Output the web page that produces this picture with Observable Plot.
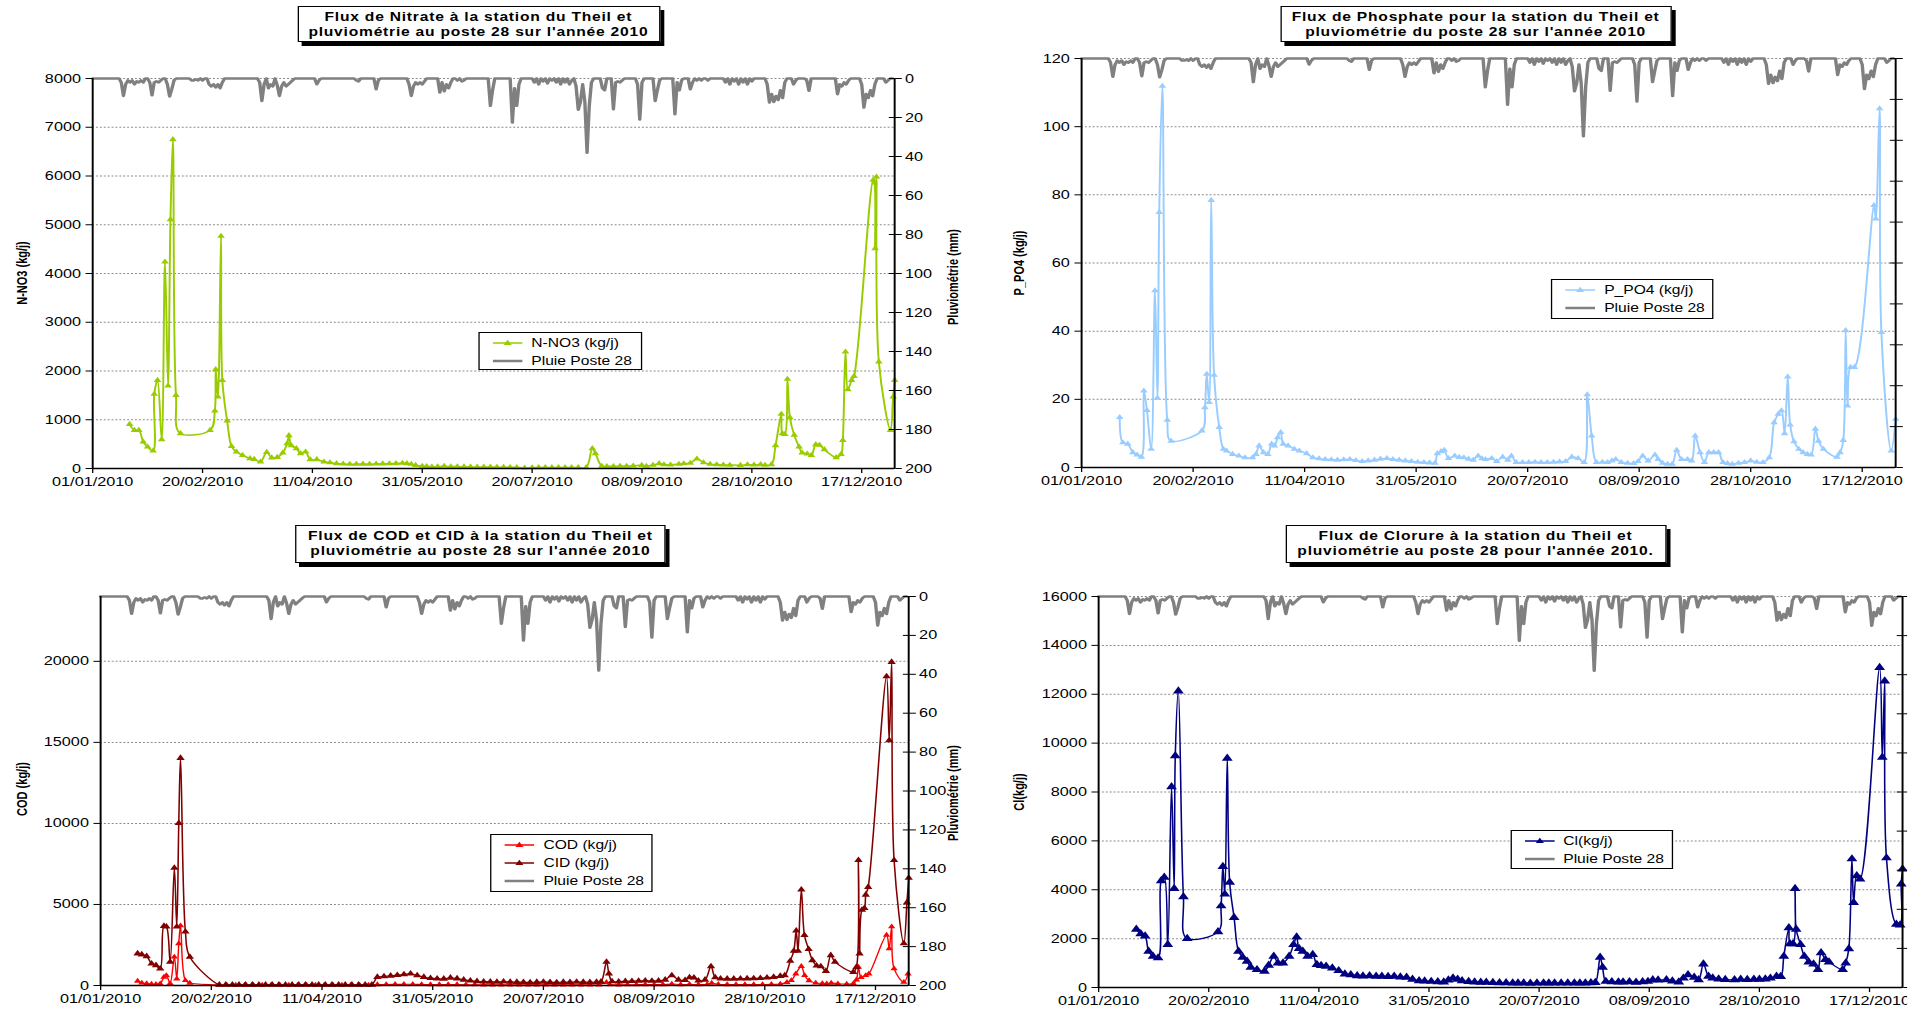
<!DOCTYPE html>
<html><head><meta charset="utf-8">
<script src="https://cdn.jsdelivr.net/npm/d3@7"></script>
<script src="https://cdn.jsdelivr.net/npm/@observablehq/plot@0.6"></script>
<style>
html,body{margin:0;padding:0;background:#fff;overflow:hidden;width:1926px;height:1009px;}
#stage{position:absolute;left:0;top:0;width:1482px;height:1009px;transform:scaleX(1.3);transform-origin:0 0;font-family:"Liberation Sans",Arial,sans-serif;color:#000;}
.title{position:absolute;border:1px solid #000;box-shadow:3px 4px 0 #000;background:#fff;font-weight:bold;font-size:12px;line-height:15px;text-align:center;letter-spacing:0.6px;padding-top:3px;box-sizing:border-box;white-space:nowrap;}
.legend{position:absolute;border:1px solid #000;background:#fff;font-size:12px;box-sizing:border-box;padding-top:1px;}
.legend .row{height:18px;display:flex;align-items:center;white-space:nowrap;}
.legend svg{margin:0 7px 0 10px;}
.vlab{position:absolute;font-weight:bold;font-size:11px;white-space:nowrap;transform:translate(-50%,-50%) rotate(-90deg);}
</style></head><body><div id="stage"></div>
<script>
// ---------- tick labels ----------
const dateTickLabels = ["01/01/2010","20/02/2010","11/04/2010","31/05/2010","20/07/2010","08/09/2010","28/10/2010","17/12/2010"];
const rainTicks = [0,20,40,60,80,100,120,140,160,180,200];
const no3Ticks = [0,1000,2000,3000,4000,5000,6000,7000,8000];
const po4Ticks = [0,20,40,60,80,100,120];
const codTicks = [0,5000,10000,15000,20000];
const clTicks = [0,2000,4000,6000,8000,10000,12000,14000,16000];

// ---------- rainfall, Pluie Poste 28 (day of year, mm) ----------
const rainEvents = [[13,2],[14,8.9],[15,3],[16,1],[17,2],[18,1],[19,3],[20,1.5],[21,2],[22,1],[23,2],[26,2],[27,8.6],[28,2],[29,1.5],[30,2],[31,1],[34,3],[35,9.2],[36,5.5],[37,1],[45,1],[46,1],[47,0.5],[48,1],[50,1],[53,3],[54,4],[55,3],[56,4.5],[57,3],[58,5],[59,2],[76,2],[77,11.5],[78,3],[80,5],[81,3],[82,4],[84,3.5],[85,8.9],[86,4],[87,2],[88,4],[89,3],[90,2],[91,1],[102,2.9],[103,1],[120,1],[121,1.5],[129,5.5],[130,1],[144,3],[145,8.9],[146,4],[147,2],[148,3],[149,2],[150,3],[151,1.5],[158,7.2],[159,2],[160,6.5],[161,3],[162,5],[163,2],[166,1],[168,1.5],[169,1],[181,14],[182,6],[191,22.6],[192,5],[193,14],[194,3],[201,2],[203,3],[205,1.5],[207,2.5],[209,1],[211,2],[213,3],[215,2],[217,3],[218,1],[220,4],[221,16],[222,12],[223,3],[224,12],[225,38],[226,14],[227,2],[232,5],[233,6],[237,15.7],[238,2],[239,1.5],[240,2],[241,1],[248,3],[249,21],[250,2],[256,11.5],[257,6],[258,1],[265,18.3],[266,2],[267,6],[268,1],[272,5.5],[273,2],[275,1],[277,1],[280,1],[288,2],[290,3],[292,1.5],[294,3],[296,2],[298,3],[300,1.5],[307,3],[308,12.3],[309,8],[310,12],[311,9],[312,11],[313,6],[314,10],[315,2],[319,3],[320,1],[325,1],[326,6.3],[339,8],[340,3],[341,4],[342,2],[343,3],[344,1],[350,3],[351,14.9],[352,8],[353,10],[354,6],[355,9],[356,3],[361,2],[362,1]];

// ---------- fluxes (day of year, kg/j) ----------
const no3 = [[16.8,909],[19,786],[21,786],[23,547],[25,444],[27.5,362],[28,1525],[29.5,1812],[31.4,595],[32.9,4240],[34.3,1696],[35.4,5108],[36.5,6750],[37.9,1504],[40,718],[53.4,786],[55.6,1183],[56,2030],[57,1470],[58.4,4766],[59,1812],[61.2,978],[63.2,458],[65.4,342],[68.2,273],[71.6,205],[73.5,190],[76.4,137],[79.2,335],[81.5,220],[84,230],[86.5,321],[88.5,513],[89.3,677],[90.4,472],[92.7,410],[94.6,308],[96.9,342],[99,185],[102,185],[105.3,137],[108,120],[111,103],[114,95],[117,89],[120,89],[123,92],[126,89],[129,95],[132,98],[135,100],[138,103],[141,110],[143,103],[145,90],[147,68],[150,50],[152,45],[154.4,34],[157,40],[160,48],[163,38],[166,40],[169,35],[172,34],[175,30],[178,32],[181,30],[184,28],[187,25],[190,24],[193,22],[196.6,14],[200,18],[203,20],[206,22],[209,20],[212,22],[215,20],[218,22],[221,20],[224.6,20],[227.4,410],[228.8,308],[231.7,48],[234,45],[237,45],[240,48],[243,50],[246,55],[249.9,68],[252,50],[255,70],[257.8,103],[260,80],[263,75],[266.8,89],[269,100],[272,110],[275,198],[278,120],[281,90],[284,80],[287,75],[290,70],[294.8,68],[298,80],[301,75],[304,82],[306,70],[308.9,82],[310.8,472],[313.4,1115],[313.9,718],[315,700],[316.2,1833],[317.3,1046],[319.3,684],[321.5,444],[322.9,321],[325.2,300],[327.1,273],[329.1,492],[330.8,479],[333,390],[338.4,226],[340.6,294],[341.4,581],[342.6,2393],[343.7,1620],[345.4,1812],[346.5,1894],[355.2,5915],[355.8,5860],[356.1,4513],[356.7,5983],[357.8,2188],[363.1,786],[364.3,1470],[365,1812]];

const po4 = [[17.1,14.7],[18.5,7.3],[20.7,6.9],[23,4.4],[24.9,3.7],[26.8,3.1],[27.9,22.5],[29.3,16.8],[31.2,5.4],[32.9,51.9],[34,20.4],[34.8,74.9],[36.2,111.9],[38.4,13.9],[40.1,7.8],[53.9,10.8],[55.3,17.6],[56.1,27.4],[57.2,19.1],[58.1,78.4],[59.4,27.1],[61.7,11.8],[63.6,5.4],[65,4.9],[67.7,3.9],[70.5,3.4],[73.3,2.9],[76.6,2.9],[78.2,3.9],[79.6,6.4],[81.6,4.4],[83.5,3.9],[85.2,6.9],[86.5,6.4],[87.9,8.8],[89.3,10.3],[90.4,6.9],[92.6,6.4],[95.4,5.4],[97.6,4.9],[100.9,4.1],[103.7,2.9],[106.5,2.6],[109.2,2.4],[112,2.3],[114.7,2.2],[117.5,2.3],[120.3,2.4],[123,2.1],[125.8,1.8],[128.5,2.0],[131.3,2.2],[134,2.5],[136.9,2.7],[139.6,2.4],[142.4,2.2],[145.2,2.0],[147.9,1.8],[150.7,1.6],[153.5,1.5],[156,1.4],[158.4,1.3],[159.5,4.1],[161.2,4.7],[162.6,5.1],[164.5,2.7],[167.3,3.4],[169.3,3.0],[171.4,2.9],[173.5,2.5],[175.6,2.2],[177.8,3.4],[179.5,2.6],[181.1,2.4],[183.9,2.7],[186.1,1.8],[188.8,3.1],[191.1,2.2],[192.7,3.4],[194.9,1.5],[197.7,1.5],[200.5,1.5],[203.3,1.6],[206,1.5],[208.8,1.5],[211.6,1.6],[214.3,1.7],[217,1.8],[219.8,3.1],[222.6,2.7],[225.3,1.5],[226.7,21.4],[228.7,9.3],[230.9,1.5],[233.5,1.6],[235.8,1.5],[237.8,2.0],[239.5,2.4],[242,1.5],[244.8,1.3],[247.5,1.2],[249.5,1.8],[251.6,3.4],[254,2.0],[257.1,3.7],[258.5,2.4],[260.5,1.3],[262.7,1.0],[264.8,1.0],[266.8,5.1],[269,2.4],[271.7,2.4],[273.5,2.0],[275.1,9.3],[277.3,4.4],[279.3,1.5],[281.2,4.4],[283.4,4.4],[285.6,4.4],[287.6,1.5],[289.6,1.2],[291.7,1.0],[294.5,1.3],[297.2,1.5],[300,2.0],[302.7,1.6],[305.5,1.5],[308.3,2.9],[310.5,13.2],[312.4,15.7],[313.8,16.7],[315.2,10.0],[316.6,26.6],[317.7,12.5],[319.4,7.6],[321.6,5.4],[323.5,4.4],[325.4,3.9],[327.1,3.7],[329,11.3],[330.4,7.8],[332.6,5.4],[338.7,3.1],[340.1,4.4],[341.5,8.0],[342.6,40.2],[343.4,18.1],[344.8,29.4],[346.5,29.4],[355.3,76.9],[356.1,73],[357.8,105.3],[358.6,39.7],[363,4.9],[365,14.2]];

const cod = [[16.7,269],[18.6,160],[20.8,120],[23,90],[25,70],[26.9,110],[28.6,518],[29.7,622],[31.4,130],[33.3,1762],[34.4,414],[35.3,2591],[36.1,3689],[38.3,311],[40.3,150],[53.6,40],[57,35],[61,30],[65,30],[69,28],[73,30],[77,32],[81,30],[85,28],[89,30],[93,32],[97,30],[101,28],[105,30],[109,30],[113,32],[117,30],[121,30],[125,60],[129,65],[133,70],[137,70],[141,75],[145,65],[149,60],[153,55],[157,60],[161,55],[165,50],[169,48],[173,45],[177,45],[181,44],[185,42],[189,40],[193,40],[197,40],[201,42],[205,40],[209,40],[213,40],[217,42],[221,40],[225,45],[228.5,200],[230,60],[234,45],[238,48],[242,50],[246,55],[250,52],[254,55],[258,90],[262,60],[266,70],[270,60],[274,65],[276,150],[279,70],[283,60],[287,58],[291,60],[295,62],[299,65],[303,70],[307,90],[310,200],[312,311],[314,725],[316.5,1181],[318,622],[320,300],[323,160],[326,130],[328,110],[330,150],[333,110],[337,90],[340,120],[341.4,352],[342.3,1140],[343.5,500],[345.6,622],[347,725],[355,3109],[356.2,2280],[357.3,3627],[358.4,1036],[362.8,207],[364.7,725]];

const cid = [[16.7,1969],[18.6,1907],[20.8,1803],[23,1347],[25,1243],[26.9,1036],[28.6,3668],[29.7,3627],[31.4,1451],[33.3,7254],[34.4,3627],[35.3,10010],[36.1,14031],[38.3,3316],[40.3,1762],[53.6,40],[56.5,45],[59.5,40],[62.5,45],[65.5,40],[68.5,42],[71.5,40],[74.5,45],[77.5,40],[80.5,42],[83.5,40],[86.5,45],[89.5,40],[92.5,42],[95.5,40],[98.5,45],[101.5,40],[104.5,42],[107.5,40],[110.5,45],[113.5,40],[116.5,42],[119.5,40],[122.5,45],[125,518],[128,560],[131,600],[134,640],[137,680],[140,725],[143,620],[146,520],[149,450],[152,420],[155,410],[158,477],[161,430],[164,350],[167,300],[170,260],[173,240],[176,230],[179,220],[182,240],[185,220],[188,210],[191,200],[194,190],[197,210],[200,220],[203,200],[206,190],[209,210],[212,200],[215,220],[218,210],[221,200],[224,210],[226,230],[228.5,1451],[229.6,725],[231,250],[234,240],[237,260],[240,270],[243,280],[246,300],[249,280],[252,290],[255,350],[258,622],[261,350],[264,330],[266,500],[268,480],[270,300],[273,350],[275.7,1181],[277.6,500],[280,420],[283,410],[286,414],[289,420],[292,430],[295,440],[298,450],[301,480],[304,520],[307,580],[309,622],[311.5,1513],[313.1,2135],[314.2,3378],[315,2135],[316.5,5907],[317.9,3109],[319.8,2238],[321.5,1554],[323.4,1223],[325.3,1181],[327.6,891],[329.8,1865],[331.7,1451],[340,829],[341.4,1140],[342.3,7730],[342.8,1969],[343.9,4663],[345,4767],[345.6,5596],[346.7,6072],[355,19067],[356.2,15129],[357.3,19958],[358.4,7730],[362.8,2591],[364.2,5119],[365,6632]];

const cl = [[17.1,2376],[19.1,2197],[21.1,2101],[22.7,1483],[24.7,1277],[27,1209],[28.4,4367],[29.8,4505],[31.4,1758],[33.1,8213],[34.3,4051],[34.8,9476],[36.2,12127],[38.5,3708],[40.2,2005],[54.2,2280],[55.6,3337],[56.4,4944],[57.3,3818],[58.4,9380],[59.5,4299],[61.5,2857],[63.5,1483],[65.4,1236],[67.4,1071],[69.1,824],[71.9,728],[75.3,659],[77.2,906],[79.5,1277],[81.4,1003],[83.7,1003],[86.5,1277],[88.5,1758],[89.9,2060],[91,1593],[92.7,1483],[94.9,1277],[97.2,1346],[99.1,934],[101,900],[103.3,865],[106.1,797],[109,687],[111.8,549],[114.5,520],[117.4,481],[120,470],[123,481],[126,460],[128.6,453],[131.4,450],[134.2,453],[137,430],[139.8,412],[142.5,330],[145.5,275],[148,260],[151,247],[154,235],[156.7,220],[158.8,300],[160.9,385],[163,330],[165,275],[168,240],[170.7,220],[173.5,215],[176,210],[179,206],[182,195],[185,190],[188,185],[190.4,179],[193,180],[196,175],[199,180],[202,178],[204.4,179],[207,182],[210,180],[213,178],[216,180],[218.5,179],[221,185],[223.5,190],[225.5,206],[227.7,1236],[228.8,824],[230.3,247],[233,230],[236,225],[238.1,220],[241,230],[244,215],[247,235],[249.4,247],[251.6,316],[254,300],[257.8,316],[260.5,260],[263.4,220],[265.5,380],[267.6,522],[270.4,412],[272.4,316],[274.6,961],[276.9,453],[278.8,385],[281.5,340],[284.5,320],[288.7,316],[291.5,330],[294.5,320],[297.5,335],[300,330],[302.7,343],[305,380],[307.8,453],[309.7,450],[311.1,1277],[313.4,2445],[313.9,1785],[315.3,1785],[316.2,4051],[316.7,2376],[318.7,1758],[320.4,1277],[322.4,1044],[324.6,961],[326.6,728],[328,1415],[330,1140],[331.6,1044],[337.8,728],[339.2,1003],[340.6,1579],[342,5260],[342.8,3475],[344.2,4573],[345.7,4436],[354.6,13089],[355.8,9421],[356.9,12539],[357.7,5301],[362.2,2582],[363.9,2555],[364.4,4230],[365,4848]];

// ---------- helpers ----------
const stage = document.getElementById("stage");
const parseD = d3.utcParse("%d/%m/%Y");
const fmtD = d3.utcFormat("%d/%m/%Y");
const dateTicks = dateTickLabels.map(parseD);
const T0 = +dateTicks[0];
const DAY = 864e5;
const toDate = d => new Date(T0 + d * DAY);
const xDomain = [toDate(0), toDate(365)];
const rainDaily = Array.from({length: 365}, (_, i) => ({day: i, mm: 0}));
for (const [d, mm] of rainEvents) rainDaily[d].mm = mm;

function panel(p) {
  const ymax = p.ymax;
  const toLeft = mm => ymax * (1 - mm / 200);
  const rain = rainDaily.map(r => ({date: toDate(r.day), y: toLeft(r.mm)}));
  const marks = [Plot.gridY(p.grid, {stroke: "#8a8a8a", strokeOpacity: 1, strokeWidth: 1, strokeDasharray: "1.5,1.5"})];
  for (const s of p.series) {
    const data = s.data.map(([d, v]) => ({date: toDate(d), v}));
    marks.push(Plot.line(data, {x: "date", y: "v", stroke: s.color, strokeWidth: s.sw, curve: "catmull-rom"}));
    marks.push(Plot.dot(data, {x: "date", y: "v", symbol: "triangle", r: s.r, fill: s.color, stroke: null}));
  }
  marks.push(Plot.line(rain, {x: "date", y: "y", stroke: "#808080", strokeWidth: 2.6, strokeLinejoin: "round"}));
  marks.push(Plot.ruleY([0], {stroke: "#000", strokeWidth: 1.6}));
  marks.push(Plot.ruleX([xDomain[0]], {stroke: "#000", strokeWidth: 1.5}));
  marks.push(Plot.ruleX([xDomain[1]], {stroke: "#000", strokeWidth: 1.5}));
  marks.push(Plot.axisY(p.yticks, {anchor: "left", tickSize: 5, tickPadding: 4, label: null, tickFormat: d3.format("d")}));
  const rpos = rainTicks.map(toLeft);
  marks.push(Plot.axisY(rpos, {anchor: "right", tickSize: 5, tickPadding: 3, label: null,
    tickFormat: p.rightLabels ? (v => String(Math.round(200 * (1 - v / ymax)))) : (() => "")}));
  marks.push(Plot.axisY(rpos, {anchor: "right", tickSize: 5, dx: -5, label: null, tickFormat: () => ""}));
  marks.push(Plot.axisX(dateTicks, {tickSize: 5, tickPadding: 4, label: null, tickFormat: fmtD}));
  const svg = Plot.plot({
    width: p.width, height: p.height,
    marginLeft: p.ml, marginRight: p.mr, marginTop: p.mt, marginBottom: p.mb,
    x: {type: "utc", domain: xDomain},
    y: {domain: [0, ymax]},
    style: {fontFamily: "'Liberation Sans', Arial, sans-serif", fontSize: "12.5px", color: "#000", background: "transparent", overflow: "visible"},
    marks
  });
  svg.style.position = "absolute";
  svg.style.left = p.left + "px";
  svg.style.top = p.top + "px";
  stage.appendChild(svg);

  // title box
  const t = document.createElement("div");
  t.className = "title";
  Object.assign(t.style, {left: p.title.x + "px", top: p.title.y + "px", width: p.title.w + "px", height: p.title.h + "px"});
  t.innerHTML = p.title.lines.join("<br>");
  stage.appendChild(t);

  // legend
  const lg = document.createElement("div");
  lg.className = "legend";
  Object.assign(lg.style, {left: p.legend.x + "px", top: p.legend.y + "px", width: p.legend.w + "px", height: p.legend.h + "px"});
  const rows = p.series.map(s => `<div class="row"><svg width="23" height="10"><line x1="0" y1="5" x2="23" y2="5" stroke="${s.color}" stroke-width="1.5"/><path d="M11.5,1.8 L14.6,7 L8.4,7 Z" fill="${s.color}"/></svg>${s.name}</div>`);
  rows.push(`<div class="row"><svg width="23" height="10"><line x1="0" y1="5" x2="23" y2="5" stroke="#808080" stroke-width="2.6"/></svg>Pluie Poste 28</div>`);
  lg.innerHTML = rows.join("");
  stage.appendChild(lg);

  // axis titles
  for (const lab of p.labels) {
    const d = document.createElement("div");
    d.className = "vlab";
    d.textContent = lab.text;
    d.style.left = lab.x + "px";
    d.style.top = lab.y + "px";
    stage.appendChild(d);
  }
}

panel({
  left: 0, top: 60, width: 745, height: 440, ml: 70.8, mr: 57.3, mt: 18, mb: 32,
  ymax: 8000, yticks: no3Ticks, grid: no3Ticks.slice(1), rightLabels: true,
  series: [{name: "N-NO3 (kg/j)", data: no3, color: "#99CC00", sw: 1.5, r: 2.2}],
  title: {x: 228.5, y: 6, w: 279, h: 36, lines: ["Flux de Nitrate à la station du Theil et", "pluviométrie au poste 28 sur l'année 2010"]},
  legend: {x: 367.7, y: 332, w: 126, h: 38},
  labels: [{text: "N-NO3 (kg/j)", x: 17, y: 273}, {text: "Pluviométrie (mm)", x: 733, y: 277}]
});
panel({
  left: 770, top: 40, width: 711, height: 459, ml: 61.5, mr: 23.3, mt: 18, mb: 32,
  ymax: 120, yticks: po4Ticks, grid: po4Ticks.slice(1), rightLabels: false,
  series: [{name: "P_PO4 (kg/j)", data: po4, color: "#99CCFF", sw: 1.5, r: 2.2}],
  title: {x: 984.6, y: 6, w: 301, h: 36, lines: ["Flux de Phosphate pour la station du Theil et", "pluviométrie du poste 28 sur l'année 2010"]},
  legend: {x: 1193, y: 279, w: 125, h: 40},
  labels: [{text: "P_PO4 (kg/j)", x: 784, y: 263}]
});
panel({
  left: 0, top: 578, width: 745, height: 431, ml: 76.9, mr: 46.5, mt: 18, mb: 24,
  ymax: 24000, yticks: codTicks, grid: codTicks.slice(1), rightLabels: true,
  series: [{name: "COD (kg/j)", data: cod, color: "#FF0000", sw: 1.1, r: 2.1},
           {name: "CID (kg/j)", data: cid, color: "#800000", sw: 1.2, r: 2.4}],
  title: {x: 227, y: 525, w: 285, h: 38, lines: ["Flux de COD et CID à la station du Theil et", "pluviométrie au poste 28 sur l'année 2010"]},
  legend: {x: 377, y: 834, w: 125, h: 58},
  labels: [{text: "COD (kg/j)", x: 17, y: 789}, {text: "Pluviométrie (mm)", x: 733, y: 793}]
});
panel({
  left: 770, top: 578, width: 711, height: 431, ml: 74.6, mr: 18, mt: 18, mb: 22,
  ymax: 16000, yticks: clTicks, grid: clTicks.slice(1), rightLabels: false,
  series: [{name: "Cl(kg/j)", data: cl, color: "#000080", sw: 1.2, r: 3.1}],
  title: {x: 988.5, y: 525, w: 293, h: 38, lines: ["Flux de Clorure à la station du Theil et", "pluviométrie au poste 28 pour l'année 2010."]},
  legend: {x: 1161.5, y: 830, w: 125, h: 39},
  labels: [{text: "Cl(kg/j)", x: 784, y: 792}]
});

// the reference image is trimmed at its right edge
const cover = document.createElement("div");
Object.assign(cover.style, {position: "absolute", left: "1467px", top: "0px", width: "20px", height: "1009px", background: "#fff"});
stage.appendChild(cover);
</script></body></html>
